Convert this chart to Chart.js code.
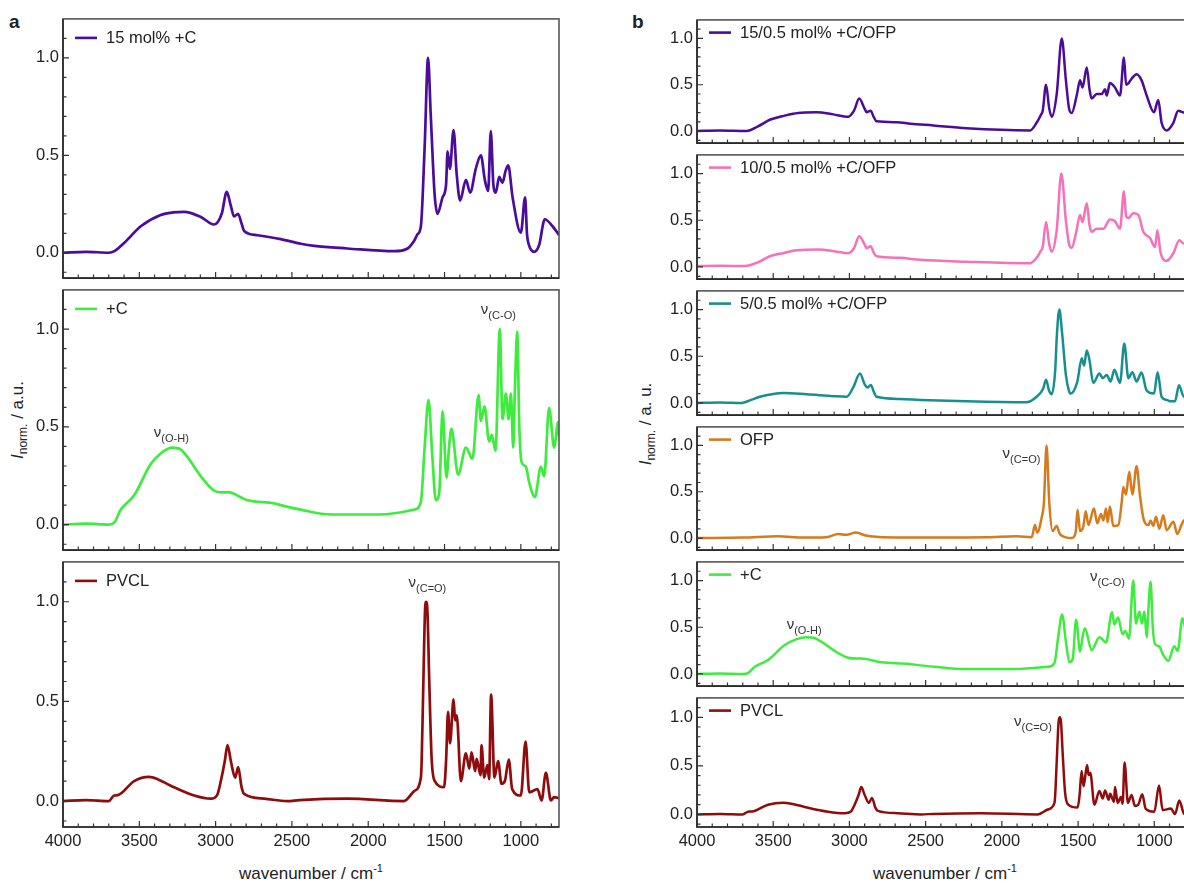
<!DOCTYPE html>
<html>
<head>
<meta charset="utf-8">
<script src="https://cdn.jsdelivr.net/npm/chart.js@4.4.0/dist/chart.umd.min.js"></script>
<style>
  html, body { margin: 0; padding: 0; width: 1184px; height: 883px; overflow: hidden; background: #fff; }
  body { position: relative; font-family: "Liberation Sans", Arial, sans-serif; color: #222; }
  canvas { position: absolute; }
  .txt { position: absolute; white-space: nowrap; line-height: 17px; font-size: 17px; }
  .letter { font-weight: bold; font-size: 19px; line-height: 19px; }
  .xt { transform: translateX(-50%); }
  .xt sup { font-size: 11px; vertical-align: 7px; line-height: 0; }
  .yt { transform: translate(-50%, -50%) rotate(-90deg); }
  .yt sub { font-size: 12px; vertical-align: -4px; line-height: 0; }
</style>
</head>
<body>
<div class="txt letter" style="left:9px; top:12px">a</div>
<div class="txt letter" style="left:632px; top:12px">b</div>
<div class="txt yt" style="left:17px; top:420px"><i>I</i><sub>norm.</sub> / a.u.</div>
<div class="txt yt" style="left:645px; top:424px"><i>I</i><sub>norm.</sub> / a. u.</div>
<div class="txt xt" style="left:311px; top:865px">wavenumber / cm<sup>-1</sup></div>
<div class="txt xt" style="left:945px; top:865px">wavenumber / cm<sup>-1</sup></div>

<script>
const xTicks = [4000, 3500, 3000, 2500, 2000, 1500, 1000];
const yTicks = [0, 0.5, 1.0];

// 15 mol% +C (panel a, top)
const c15Wn = [4000, 3850, 3700, 3660, 3600, 3490, 3360, 3280, 3206, 3100, 3010, 2960, 2927, 2900, 2879, 2853, 2830, 2813, 2725, 2573, 2442, 2354, 2136, 1830, 1742, 1700, 1677, 1655, 1630, 1608, 1590, 1565, 1546, 1513, 1490, 1480, 1465, 1441, 1420, 1398, 1360, 1332, 1295, 1262, 1236, 1214, 1197, 1180, 1164, 1142, 1120, 1100, 1083, 1054, 1000, 972, 960, 946, 913, 880, 843, 792, 750];
const c15Int = [0, 0.005, 0, 0.01, 0.05, 0.136, 0.194, 0.207, 0.21, 0.185, 0.145, 0.2, 0.312, 0.24, 0.186, 0.2, 0.15, 0.112, 0.09, 0.07, 0.046, 0.035, 0.022, 0.008, 0.022, 0.06, 0.095, 0.136, 0.55, 1.0, 0.7, 0.3, 0.2, 0.284, 0.35, 0.52, 0.43, 0.63, 0.4, 0.268, 0.374, 0.309, 0.432, 0.5, 0.374, 0.317, 0.624, 0.35, 0.309, 0.39, 0.36, 0.42, 0.448, 0.284, 0.103, 0.284, 0.1, 0.038, 0.005, 0.04, 0.172, 0.136, 0.09];

// +C
const plusCWn = [4000, 3850, 3700, 3665, 3621, 3534, 3425, 3350, 3283, 3230, 3184, 3097, 3010, 2950, 2922, 2791, 2617, 2573, 2442, 2245, 1918, 1699, 1655, 1630, 1605, 1580, 1557, 1535, 1513, 1487, 1470, 1455, 1411, 1360, 1317, 1277, 1262, 1238, 1208, 1190, 1166, 1138, 1120, 1098, 1081, 1065, 1050, 1039, 1024, 1010, 995, 967, 945, 908, 869, 847, 815, 782, 756, 750];
const plusCInt = [0, 0.005, 0, 0.01, 0.077, 0.15, 0.31, 0.37, 0.394, 0.385, 0.345, 0.247, 0.174, 0.165, 0.166, 0.125, 0.109, 0.1, 0.077, 0.052, 0.052, 0.077, 0.117, 0.4, 0.638, 0.35, 0.125, 0.16, 0.58, 0.24, 0.4, 0.49, 0.255, 0.394, 0.337, 0.662, 0.53, 0.605, 0.426, 0.459, 0.378, 1.0, 0.54, 0.67, 0.54, 0.67, 0.394, 0.686, 0.987, 0.5, 0.32, 0.296, 0.215, 0.141, 0.296, 0.247, 0.597, 0.394, 0.524, 0.45];

// PVCL
const pvclWn = [4000, 3850, 3700, 3665, 3640, 3534, 3436, 3380, 3294, 3141, 3031, 2990, 2966, 2940, 2922, 2900, 2872, 2852, 2830, 2813, 2682, 2530, 2450, 2136, 1766, 1699, 1655, 1650, 1640, 1628, 1620, 1612, 1600, 1585, 1564, 1503, 1490, 1477, 1464, 1441, 1431, 1420, 1393, 1360, 1338, 1323, 1299, 1290, 1264, 1258, 1240, 1219, 1208, 1195, 1173, 1149, 1127, 1105, 1079, 1057, 1000, 969, 945, 891, 864, 836, 803, 782, 750];
const pvclInt = [0, 0.005, 0, 0.028, 0.03, 0.1, 0.121, 0.11, 0.077, 0.028, 0.012, 0.03, 0.1, 0.2, 0.281, 0.2, 0.118, 0.17, 0.07, 0.036, 0.012, 0, 0.005, 0.012, 0, 0.05, 0.118, 0.2, 0.55, 0.95, 1.0, 0.95, 0.6, 0.22, 0.1, 0.07, 0.2, 0.448, 0.29, 0.51, 0.405, 0.43, 0.1, 0.24, 0.163, 0.245, 0.15, 0.212, 0.13, 0.281, 0.118, 0.18, 0.11, 0.534, 0.118, 0.2, 0.087, 0.1, 0.208, 0.06, 0.028, 0.298, 0.044, 0.06, 0.003, 0.142, 0.003, 0.02, 0.015];

// 15/0.5 mol% +C/OFP
const c15bWn = [4000, 3850, 3675, 3600, 3522, 3440, 3369, 3290, 3215, 3106, 3008, 2970, 2936, 2900, 2887, 2861, 2840, 2822, 2690, 2600, 2450, 2231, 1815, 1772, 1745, 1732, 1710, 1690, 1673, 1640, 1607, 1580, 1560, 1542, 1509, 1487, 1471, 1443, 1425, 1411, 1378, 1345, 1323, 1312, 1291, 1258, 1225, 1199, 1185, 1170, 1149, 1116, 1084, 1050, 1002, 974, 952, 919, 875, 843, 806, 760];
const c15bInt = [0, 0.005, 0, 0.05, 0.122, 0.16, 0.187, 0.2, 0.204, 0.18, 0.154, 0.22, 0.351, 0.24, 0.204, 0.22, 0.15, 0.105, 0.096, 0.08, 0.06, 0.03, 0.007, 0.089, 0.17, 0.22, 0.5, 0.25, 0.154, 0.4, 1.0, 0.55, 0.25, 0.194, 0.384, 0.548, 0.47, 0.685, 0.45, 0.351, 0.4, 0.4, 0.45, 0.384, 0.52, 0.47, 0.384, 0.794, 0.5, 0.515, 0.565, 0.613, 0.55, 0.384, 0.204, 0.334, 0.089, 0.007, 0.089, 0.22, 0.2, 0.2];

// 10/0.5 mol% +C/OFP
const c10bWn = [4000, 3850, 3686, 3600, 3522, 3430, 3346, 3205, 3084, 3008, 2970, 2936, 2900, 2887, 2861, 2840, 2822, 2669, 2537, 2231, 1815, 1772, 1745, 1732, 1710, 1690, 1673, 1640, 1610, 1580, 1560, 1542, 1515, 1487, 1471, 1443, 1425, 1411, 1378, 1334, 1291, 1258, 1225, 1199, 1185, 1170, 1138, 1105, 1072, 1028, 995, 980, 958, 919, 875, 836, 806, 760];
const c10bInt = [0.01, 0.012, 0.01, 0.05, 0.115, 0.15, 0.18, 0.187, 0.164, 0.148, 0.2, 0.328, 0.24, 0.2, 0.223, 0.15, 0.115, 0.098, 0.076, 0.056, 0.04, 0.098, 0.17, 0.213, 0.482, 0.25, 0.164, 0.4, 1.0, 0.5, 0.25, 0.206, 0.35, 0.557, 0.48, 0.682, 0.45, 0.377, 0.41, 0.41, 0.508, 0.49, 0.41, 0.81, 0.55, 0.524, 0.574, 0.557, 0.377, 0.31, 0.213, 0.393, 0.147, 0.066, 0.147, 0.285, 0.25, 0.25];

// 5/0.5 mol% +C/OFP
const c5bWn = [4000, 3850, 3707, 3650, 3587, 3500, 3434, 3281, 3106, 3019, 2975, 2931, 2900, 2883, 2859, 2840, 2822, 2669, 2537, 2231, 1837, 1772, 1730, 1710, 1690, 1673, 1650, 1640, 1623, 1605, 1580, 1560, 1549, 1505, 1476, 1461, 1443, 1426, 1400, 1360, 1338, 1312, 1287, 1262, 1225, 1197, 1170, 1144, 1116, 1084, 1050, 1002, 978, 952, 919, 892, 864, 838, 806, 760];
const c5bInt = [0, 0.005, 0, 0.03, 0.066, 0.095, 0.106, 0.093, 0.073, 0.066, 0.166, 0.315, 0.2, 0.166, 0.192, 0.12, 0.066, 0.043, 0.033, 0.017, 0.007, 0.066, 0.15, 0.248, 0.13, 0.093, 0.35, 0.7, 1.0, 0.75, 0.3, 0.13, 0.1, 0.228, 0.48, 0.4, 0.563, 0.465, 0.215, 0.315, 0.265, 0.3, 0.23, 0.355, 0.215, 0.636, 0.265, 0.33, 0.23, 0.325, 0.133, 0.1, 0.33, 0.066, 0.033, 0.017, 0.017, 0.19, 0.066, 0.1];

// OFP
const ofpWn = [4000, 3700, 3467, 3300, 3150, 3073, 3019, 2957, 2900, 2866, 2700, 2400, 2100, 1903, 1804, 1783, 1768, 1739, 1724, 1707, 1689, 1667, 1641, 1619, 1542, 1516, 1503, 1487, 1465, 1450, 1432, 1396, 1374, 1350, 1334, 1317, 1306, 1291, 1269, 1236, 1214, 1203, 1186, 1164, 1144, 1116, 1094, 1068, 1039, 1024, 1006, 989, 967, 941, 919, 875, 849, 821, 806, 760];
const ofpInt = [0, 0.005, 0.02, 0.005, 0.01, 0.043, 0.035, 0.06, 0.03, 0.02, 0.005, 0.005, 0.008, 0.02, 0.01, 0.14, 0.06, 0.22, 0.385, 1.0, 0.385, 0.075, 0.13, 0.043, 0, 0.06, 0.305, 0.075, 0.13, 0.29, 0.14, 0.32, 0.16, 0.26, 0.19, 0.32, 0.17, 0.34, 0.13, 0.14, 0.385, 0.55, 0.47, 0.715, 0.47, 0.774, 0.46, 0.19, 0.14, 0.19, 0.13, 0.23, 0.1, 0.245, 0.085, 0.175, 0.045, 0.145, 0.19, 0.2];

const FONT = '"Liberation Sans", Arial, sans-serif';
Chart.defaults.font.family = FONT;
Chart.defaults.color = '#222';

// frame, inward ticks, legend and band labels
const framePlugin = {
  id: 'frame',
  afterDatasetsDraw(chart, args, opts) {
    const { ctx, chartArea: a, scales: { x, y } } = chart;
    ctx.save();
    ctx.strokeStyle = '#333';
    ctx.lineWidth = 1.2;
    ctx.beginPath();
    for (let v = 4000; v >= 800; v -= 100) {
      const px = x.getPixelForValue(v);
      const len = v % 500 === 0 ? 6 : 3.5;
      ctx.moveTo(px, a.bottom);
      ctx.lineTo(px, a.bottom - len);
    }
    for (let k = -1; k <= 11; k++) {
      const py = y.getPixelForValue(k / 10);
      const len = k % 5 === 0 ? 6 : 3.5;
      ctx.moveTo(a.left, py);
      ctx.lineTo(a.left + len, py);
    }
    ctx.stroke();

    ctx.lineWidth = 1.6;
    ctx.strokeStyle = '#555';
    ctx.strokeRect(a.left, a.top, a.right - a.left, a.bottom - a.top);
    ctx.strokeStyle = '#2a2a2a';
    ctx.beginPath();
    ctx.moveTo(a.left, a.top);
    ctx.lineTo(a.left, a.bottom);
    ctx.lineTo(a.right, a.bottom);
    ctx.stroke();

    const ds = chart.data.datasets[0];
    const ly = a.top + opts.legendY;
    ctx.strokeStyle = ds.borderColor;
    ctx.lineWidth = 2.6;
    ctx.beginPath();
    ctx.moveTo(a.left + 12, ly);
    ctx.lineTo(a.left + 34, ly);
    ctx.stroke();
    ctx.fillStyle = '#222';
    ctx.font = '16.5px ' + FONT;
    ctx.textBaseline = 'middle';
    ctx.textAlign = 'left';
    ctx.fillText(ds.label, a.left + 43, ly + 1);

    ctx.fillStyle = '#333';
    ctx.textBaseline = 'alphabetic';
    for (const n of opts.notes || []) {
      const px = x.getPixelForValue(n.wn);
      const py = y.getPixelForValue(n.v);
      ctx.font = '15px ' + FONT;
      ctx.fillText('ν', px, py);
      const w = ctx.measureText('ν').width;
      ctx.font = '11px ' + FONT;
      ctx.fillText(n.sub, px + w, py + 5);
    }
    ctx.restore();
  }
};

const panels = [
  { left: 0, width: 580, yw: 63, right: 21, legendY: 19, lw: 2.7, rows: [
    { top: 13, bottom: 284, label: '15 mol% +C', wn: c15Wn, val: c15Int, color: '#4b0c9b', notes: [] },
    { top: 284, bottom: 556, label: '+C', wn: plusCWn, val: plusCInt, color: '#3eec3e',
      notes: [{ wn: 3405, v: 0.45, sub: '(O-H)' }, { wn: 1262, v: 1.077, sub: '(C-O)' }] },
    { top: 556, bottom: 827, label: 'PVCL', wn: pvclWn, val: pvclInt, color: '#900c0c',
      notes: [{ wn: 1736, v: 1.072, sub: '(C=O)' }] }
  ]},
  { left: 620, width: 600, yw: 77, right: 27.6, legendY: 12.7, lw: 2.5, rows: [
    { top: 14, bottom: 149, label: '15/0.5 mol% +C/OFP', wn: c15bWn, val: c15bInt, color: '#4b0c9b', notes: [] },
    { top: 149, bottom: 285, label: '10/0.5 mol% +C/OFP', wn: c10bWn, val: c10bInt, color: '#f671b6', notes: [] },
    { top: 285, bottom: 421, label: '5/0.5 mol% +C/OFP', wn: c5bWn, val: c5bInt, color: '#178f8f', notes: [] },
    { top: 421, bottom: 556, label: 'OFP', wn: ofpWn, val: ofpInt, color: '#d67a1e',
      notes: [{ wn: 1995, v: 0.862, sub: '(C=O)' }] },
    { top: 556, bottom: 692, label: '+C', wn: plusCWn, val: plusCInt, color: '#3eec3e',
      notes: [{ wn: 3412, v: 0.48, sub: '(O-H)' }, { wn: 1422, v: 1.0, sub: '(C-O)' }] },
    { top: 692, bottom: 827, label: 'PVCL', wn: pvclWn, val: pvclInt, color: '#900c0c',
      notes: [{ wn: 1920, v: 0.91, sub: '(C=O)' }] }
  ]}
];

panels.forEach(p => {
  p.rows.forEach((r, i) => {
    const isBottom = i === p.rows.length - 1;
    const padTop = 8;
    const xh = isBottom ? 40 : 0;
    const padBottom = isBottom ? 0 : 8;
    const canvas = document.createElement('canvas');
    canvas.width = p.width;
    canvas.height = (r.bottom - r.top) + padTop + padBottom + xh;
    canvas.style.left = p.left + 'px';
    canvas.style.top = (r.top - padTop) + 'px';
    document.body.appendChild(canvas);

    new Chart(canvas.getContext('2d'), {
      type: 'line',
      data: {
        datasets: [{
          label: r.label,
          data: r.wn.map((w, k) => ({ x: w, y: r.val[k] })),
          borderColor: r.color,
          borderWidth: p.lw,
          borderJoinStyle: 'round',
          pointRadius: 0,
          cubicInterpolationMode: 'monotone'
        }]
      },
      options: {
        responsive: false,
        animation: false,
        layout: { padding: { top: padTop, right: p.right, bottom: padBottom, left: 0 } },
        plugins: {
          legend: { display: false },
          tooltip: { enabled: false },
          frame: { legendY: p.legendY, notes: r.notes }
        },
        scales: {
          x: {
            type: 'linear', reverse: true, min: 750, max: 4000,
            afterBuildTicks: s => { s.ticks = xTicks.map(v => ({ value: v })); },
            afterFit: s => { s.height = xh; },
            grid: { display: false, drawTicks: false },
            border: { display: false },
            ticks: { display: isBottom, padding: 5, font: { size: 16.5 }, maxRotation: 0, callback: v => String(v) }
          },
          y: {
            min: -0.13, max: 1.2,
            afterBuildTicks: s => { s.ticks = yTicks.map(v => ({ value: v })); },
            afterFit: s => { s.width = p.yw; },
            grid: { display: false, drawTicks: false },
            border: { display: false },
            ticks: { padding: 4, font: { size: 16.5 }, callback: v => v.toFixed(1) }
          }
        }
      },
      plugins: [framePlugin]
    });
  });
});
</script>
</body>
</html>
